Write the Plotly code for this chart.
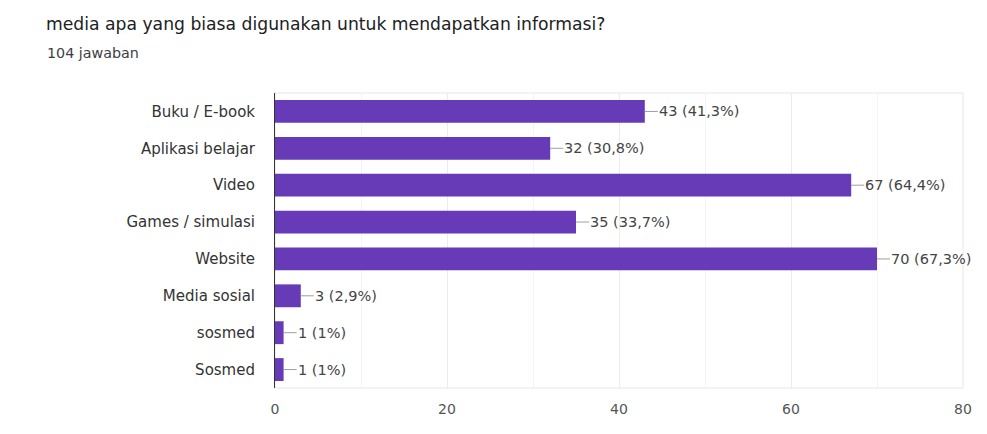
import plotly.graph_objects as go

# Responses per information source
categories = ["Buku / E-book", "Aplikasi belajar", "Video", "Games / simulasi",
              "Website", "Media sosial", "sosmed", "Sosmed"]
counts = [43, 32, 67, 35, 70, 3, 1, 1]
percents = ["41,3%", "30,8%", "64,4%", "33,7%", "67,3%", "2,9%", "1%", "1%"]
x_ticks = [0, 20, 40, 60, 80]

title_text = "media apa yang biasa digunakan untuk mendapatkan informasi?"
subtitle_text = "104 jawaban"

BAR = "#673ab7"
FONT = "DejaVu Sans, Arial, sans-serif"

W, H = 987, 434
ML, MR, MT, MB = 275, 24, 93, 46

fig = go.Figure(
    go.Bar(
        x=counts,
        y=categories,
        orientation="h",
        marker=dict(color=BAR, line=dict(width=0)),
        hoverinfo="skip",
    )
)

# value labels with a short leader line from the bar end
for cat, n, pct in zip(categories, counts, percents):
    fig.add_annotation(
        x=n, y=cat, xref="x", yref="y",
        text=f"{n} ({pct})",
        showarrow=True, arrowhead=0, arrowwidth=1, arrowcolor="#9e9e9e",
        ax=13, ay=0, xanchor="left", yanchor="middle",
        font=dict(family=FONT, size=14.5, color="#444444"),
        borderpad=0,
    )


def px_to_paper(px, py):
    return (px - ML) / (W - ML - MR), 1 + (MT - py) / (H - MT - MB)


# heading text
tx, ty = px_to_paper(44, 24)
fig.add_annotation(
    x=tx, y=ty, xref="paper", yref="paper", text=title_text, showarrow=False,
    xanchor="left", yanchor="middle",
    font=dict(family=FONT, size=17.2, color="#202124"),
)
sx, sy = px_to_paper(45, 53)
fig.add_annotation(
    x=sx, y=sy, xref="paper", yref="paper", text=subtitle_text, showarrow=False,
    xanchor="left", yanchor="middle",
    font=dict(family=FONT, size=14.3, color="#3c4043"),
)

# light frame around the plotting area
fig.add_shape(type="rect", xref="paper", yref="paper", x0=0, x1=1, y0=0, y1=1,
              line=dict(color="#e6e6e6", width=1), layer="below")

fig.update_layout(
    width=W, height=H,
    margin=dict(l=ML, r=MR, t=MT, b=MB),
    paper_bgcolor="white", plot_bgcolor="white",
    bargap=0.38,
    showlegend=False,
    font=dict(family=FONT),
    xaxis=dict(
        range=[0, 80], tickvals=x_ticks, showgrid=True, gridcolor="#ebebeb",
        minor=dict(dtick=10, showgrid=True, gridcolor="#f4f4f4"),
        zeroline=False, showline=False,
        ticks="outside", ticklen=8, tickcolor="rgba(0,0,0,0)",
        tickfont=dict(family=FONT, size=14, color="#555555"),
        fixedrange=True,
    ),
    yaxis=dict(
        autorange="reversed", showgrid=False, zeroline=False,
        showline=True, linecolor="#333333", linewidth=1,
        ticks="outside", ticklen=16, tickcolor="rgba(0,0,0,0)",
        tickfont=dict(family=FONT, size=15, color="#333333"),
        fixedrange=True,
    ),
)

fig.write_html("out.html", config={"displayModeBar": False})
